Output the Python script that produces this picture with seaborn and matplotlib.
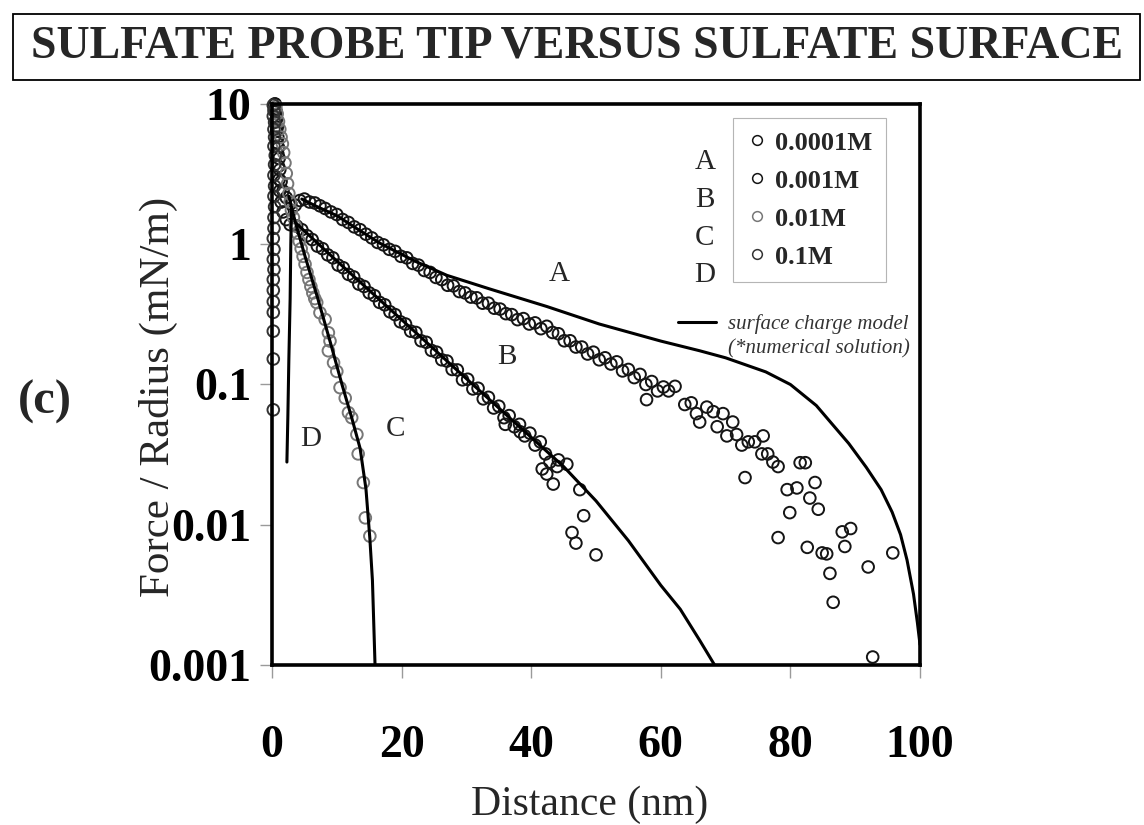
import matplotlib
matplotlib.use("Agg")
import matplotlib.pyplot as plt
import seaborn as sns
import pandas as pd
from matplotlib.lines import Line2D
from matplotlib.patches import Rectangle
from matplotlib.ticker import NullLocator

# ---------------- data ----------------
title = "SULFATE PROBE TIP VERSUS SULFATE SURFACE"
series_letters = ["A", "B", "C", "D"]
conc_labels = ["0.0001M", "0.001M", "0.01M", "0.1M"]
model_labels = ["surface charge model", "(*numerical solution)"]
x_ticks = [0, 20, 40, 60, 80, 100]
x_tick_labels = ["0", "20", "40", "60", "80", "100"]
y_ticks = [0.001, 0.01, 0.1, 1, 10]
y_tick_labels = ["0.001", "0.01", "0.1", "1", "10"]

# 0.0001M (A) measured points (distance nm, force/radius mN/m)
a_points = [
    (0.5, 10.0), (0.6, 9.0), (0.7, 7.9), (0.8, 6.8), (0.9, 5.8), (1.0, 4.9), (1.1, 4.1),
    (1.2, 3.4), (1.4, 2.8), (1.7, 2.4), (2.2, 2.15), (2.9, 1.95),
    (3.6, 1.90), (4.3, 2.05), (5.0, 2.10), (5.8, 2.00), (6.6, 1.97), (7.4, 1.88), (8.2, 1.80),
    (9.1, 1.70), (10.0, 1.63), (10.9, 1.50), (11.8, 1.43), (12.7, 1.33), (13.6, 1.27),
    (14.5, 1.18), (15.4, 1.11), (16.3, 1.03), (17.2, 0.99), (18.1, 0.92), (19.0, 0.89),
    (19.9, 0.82), (20.8, 0.80), (21.7, 0.73), (22.6, 0.71), (23.5, 0.65), (24.4, 0.63),
    (25.3, 0.58), (26.2, 0.56), (27.1, 0.51), (28.0, 0.505), (28.9, 0.46), (29.8, 0.45),
    (30.7, 0.42), (31.6, 0.415), (32.5, 0.38), (33.4, 0.38), (34.3, 0.35), (35.2, 0.345),
    (36.1, 0.32), (37.0, 0.315), (37.9, 0.29), (38.8, 0.295), (39.7, 0.27), (40.6, 0.275),
    (41.5, 0.25), (42.4, 0.26), (43.3, 0.235), (44.2, 0.23), (45.1, 0.205), (46.0, 0.205),
    (46.9, 0.185), (47.8, 0.185), (48.7, 0.165), (49.6, 0.17), (50.5, 0.15), (51.4, 0.155),
    (52.3, 0.14), (53.2, 0.145), (54.1, 0.125), (55.0, 0.128), (55.9, 0.112), (56.8, 0.118),
    (57.7, 0.10), (58.6, 0.105), (59.5, 0.09), (60.4, 0.096),
    (57.8, 0.078), (61.2, 0.090), (62.2, 0.097), (63.7, 0.072), (64.7, 0.074), (65.5, 0.062),
    (66.0, 0.054), (67.1, 0.069), (68.1, 0.064), (69.6, 0.062), (71.1, 0.054), (68.7, 0.050),
    (70.2, 0.043), (71.7, 0.044), (72.5, 0.037), (73.5, 0.039), (74.5, 0.039), (75.8, 0.043),
    (75.6, 0.032), (76.5, 0.032), (77.3, 0.028), (78.1, 0.026), (73.0, 0.0217), (81.5, 0.0277),
    (82.3, 0.0277), (79.5, 0.0178), (81.0, 0.0183), (83.8, 0.020), (79.9, 0.0122), (83.0, 0.0155),
    (84.3, 0.0129), (78.1, 0.0081), (82.6, 0.0069), (84.9, 0.0063), (85.6, 0.0062), (88.0, 0.0089),
    (89.3, 0.0094), (88.4, 0.0070), (86.1, 0.0045), (86.6, 0.0028), (92.0, 0.0050), (95.8, 0.0063),
    (92.7, 0.00114),
]

# 0.001M (B)
b_points = [
    (0.4, 10.0), (0.5, 8.8), (0.6, 7.6), (0.7, 6.4), (0.8, 5.3), (0.9, 4.4), (1.0, 3.6),
    (1.1, 2.9), (1.2, 2.4), (1.4, 2.0), (1.7, 1.7), (2.2, 1.5), (2.8, 1.38),
    (3.8, 1.35), (4.6, 1.27), (5.4, 1.15), (6.2, 1.08), (7.0, 0.97), (7.8, 0.93), (8.6, 0.84),
    (9.4, 0.80), (10.2, 0.71), (11.0, 0.68), (11.8, 0.61), (12.6, 0.585), (13.4, 0.52),
    (14.2, 0.50), (15.0, 0.45), (15.8, 0.43), (16.6, 0.385), (17.4, 0.37), (18.2, 0.33),
    (19.0, 0.315), (19.8, 0.28), (20.6, 0.27), (21.4, 0.24), (22.2, 0.235), (23.0, 0.205),
    (23.8, 0.20), (24.6, 0.175), (25.4, 0.17), (26.2, 0.15), (27.0, 0.147), (27.8, 0.128),
    (28.6, 0.127), (29.4, 0.108), (30.2, 0.109), (31.0, 0.093), (31.8, 0.094), (32.6, 0.079),
    (33.4, 0.081), (34.2, 0.068), (35.0, 0.070), (35.8, 0.058), (36.6, 0.060), (37.4, 0.050),
    (38.2, 0.052), (39.0, 0.043), (39.8, 0.045), (40.6, 0.037), (41.4, 0.039), (42.2, 0.032),
    (41.7, 0.025), (42.4, 0.023), (42.9, 0.028), (44.2, 0.029), (45.5, 0.027), (43.4, 0.0195),
    (47.5, 0.0178), (48.1, 0.0116), (46.3, 0.0088), (46.9, 0.0074), (50.0, 0.0061),
    (38.3, 0.046), (36.0, 0.052), (44.0, 0.026),
]

# 0.01M (C)
c_points = [
    (0.6, 9.6), (0.8, 8.5), (1.0, 7.5), (1.2, 6.6), (1.4, 5.8), (1.6, 5.2), (1.8, 4.5),
    (2.0, 3.8), (2.2, 3.2), (2.4, 2.7), (2.6, 2.3), (2.8, 2.0), (3.0, 1.75), (3.3, 1.55),
    (3.6, 1.35), (3.9, 1.2), (4.2, 1.05), (4.5, 0.93), (4.8, 0.82), (5.1, 0.72), (5.4, 0.63),
    (5.7, 0.56), (6.0, 0.50), (6.3, 0.45), (6.6, 0.41), (6.9, 0.384), (7.4, 0.325),
    (8.2, 0.291), (8.7, 0.234), (8.95, 0.204), (8.7, 0.174), (9.5, 0.143), (10.0, 0.124),
    (10.5, 0.095), (11.3, 0.080), (11.8, 0.063), (12.3, 0.058), (13.1, 0.044), (13.3, 0.032),
    (14.1, 0.020), (14.4, 0.0112), (15.1, 0.0083),
]

# 0.1M (D)
d_points = [
    (0.2, 9.8), (0.3, 9.0), (0.2, 8.2), (0.4, 7.4), (0.3, 6.6), (0.4, 5.8), (0.3, 5.0),
    (0.5, 4.3), (0.4, 3.7), (0.3, 3.1), (0.4, 2.6), (0.3, 2.2), (0.4, 1.85), (0.3, 1.55),
    (0.3, 1.3), (0.2, 1.1), (0.3, 0.92), (0.2, 0.78), (0.3, 0.66), (0.2, 0.56), (0.2, 0.47),
    (0.2, 0.39), (0.2, 0.327), (0.2, 0.24), (0.2, 0.152), (0.2, 0.066),
]

# surface charge model curves
a_model = [(4.6, 2.1), (7, 1.85), (10, 1.6), (13, 1.3), (16.6, 1.02), (22, 0.76), (27, 0.60),
           (33.6, 0.48), (42.4, 0.36), (50.5, 0.27), (60, 0.204), (66, 0.174), (70, 0.155),
           (76.2, 0.123), (80, 0.10), (84, 0.0708), (86.4, 0.0525), (89, 0.038), (91.7, 0.0257),
           (94, 0.0178), (95.7, 0.0123), (97, 0.0085), (98, 0.0056), (99, 0.0032), (99.6, 0.002),
           (100, 0.0014)]
b_model = [(3.8, 1.4), (10, 0.76), (20, 0.29), (30, 0.11), (40, 0.042), (45, 0.026),
           (50, 0.0148), (55, 0.0077), (60, 0.0037), (63, 0.0025), (66, 0.0015), (68.3, 0.001)]
c_model = [(2.6, 2.2), (3.5, 1.5), (5, 0.85), (7, 0.42), (9, 0.2), (10.8, 0.1), (12.3, 0.058),
           (13.6, 0.035), (14.5, 0.018), (15.1, 0.008), (15.5, 0.004), (15.9, 0.001)]
d_model = [(3.0, 1.8), (2.9, 1.0), (2.8, 0.41), (2.6, 0.15), (2.45, 0.06), (2.3, 0.028)]

# ---------------- styling ----------------
marker_colors = ["#151515", "#151515", "#777777", "#333333"]

sns.set_theme(style="white")
plt.rcParams["font.family"] = ["Liberation Serif", "DejaVu Serif"]

W, H = 1144, 825
fig = plt.figure(figsize=(W / 100, H / 100), dpi=100)
ax_l, ax_r, ax_t, ax_b = 272, 920, 104, 665
ax = fig.add_axes([ax_l / W, 1 - ax_b / H, (ax_r - ax_l) / W, (ax_b - ax_t) / H])

def to_df(points):
    return pd.DataFrame(points, columns=["distance", "force"])

for pts, col in zip([a_points, b_points, c_points, d_points], marker_colors):
    df = to_df(pts)
    sns.scatterplot(data=df, x="distance", y="force", ax=ax, marker="o", s=70,
                    facecolor="none", edgecolor=col, linewidth=1.4, legend=False,
                    zorder=2, clip_on=False)

for pts in [a_model, b_model, c_model, d_model]:
    df = to_df(pts)
    sns.lineplot(data=df, x="distance", y="force", ax=ax, color="black", linewidth=2.2,
                 sort=False, estimator=None, legend=False, zorder=3)

ax.set_yscale("log")
ax.set_xlim(0, 100)
ax.set_ylim(0.001, 10)
ax.set_xticks(x_ticks)
ax.set_xticklabels(x_tick_labels, fontsize=33, fontweight="bold")
ax.set_yticks(y_ticks)
ax.set_yticklabels(y_tick_labels, fontsize=33, fontweight="bold")
ax.yaxis.set_minor_locator(NullLocator())
ax.xaxis.set_minor_locator(NullLocator())
ax.tick_params(axis="both", which="major", direction="out", length=9, width=1,
               color="#9a9a9a", bottom=True, left=True, labelcolor="black")
ax.tick_params(axis="x", pad=34)
ax.tick_params(axis="y", pad=6)
for s in ax.spines.values():
    s.set_linewidth(2.6)
    s.set_color("black")
ax.grid(False)

ax.set_xlabel("Distance (nm)", fontsize=30)
ax.xaxis.set_label_coords(0.49, -0.214)
ax.set_ylabel("Force / Radius (mN/m)", fontsize=31)
ax.yaxis.set_label_coords(-0.145, 0.478)

# concentration legend
handles = [Line2D([], [], marker="o", linestyle="none", markerfacecolor="none",
                  markeredgecolor=c, markeredgewidth=1.1, markersize=7) for c in marker_colors]
leg1 = ax.legend(handles, conc_labels, loc="upper left",
                 bbox_to_anchor=((733 - ax_l) / (ax_r - ax_l), (ax_b - 118) / (ax_b - ax_t)),
                 bbox_transform=ax.transAxes, frameon=True, fancybox=False,
                 edgecolor="#b5b5b5", framealpha=1, prop={"weight": "bold", "size": 19},
                 handlelength=0.8, handletextpad=0.3, labelspacing=0.55, borderpad=0.5,
                 borderaxespad=0)
leg1.get_frame().set_linewidth(0.8)
ax.add_artist(leg1)

# model legend
mhandles = [Line2D([], [], color="black", linewidth=2.2), Line2D([], [], color="none")]
leg2 = ax.legend(mhandles, model_labels, loc="upper left",
                 bbox_to_anchor=((678 - ax_l) / (ax_r - ax_l), (ax_b - 314) / (ax_b - ax_t)),
                 bbox_transform=ax.transAxes, frameon=False,
                 prop={"style": "italic", "size": 15}, labelcolor="#333333",
                 handlelength=1.8, handletextpad=0.6, labelspacing=0.25, borderpad=0,
                 borderaxespad=0)

# letters next to the legend
for letter, ypix in zip(series_letters, [162, 200, 238, 275]):
    ax.text((705 - ax_l) / (ax_r - ax_l), (ax_b - ypix) / (ax_b - ax_t), letter,
            transform=ax.transAxes, fontsize=21, ha="center", va="center")

# curve labels
for letter, (lx, ly) in zip(series_letters, [(44.4, 0.61), (36.3, 0.158), (19.0, 0.048), (5.9, 0.041)]):
    ax.text(lx, ly, letter, fontsize=21, ha="center", va="center")

# panel label
fig.text(45 / W, 1 - 402 / H, "(c)", fontsize=35, fontweight="bold", ha="center", va="center")

# title with box
fig.text(577 / W, 1 - 47 / H, title, fontsize=33, fontweight="bold", ha="center", va="center")
fig.patches.append(Rectangle((13 / W, 1 - 80 / H), (1140 - 13) / W, (80 - 14) / H,
                             transform=fig.transFigure, fill=False, edgecolor="black",
                             linewidth=1.3))

fig.savefig("out.png", dpi=100, facecolor="white")
